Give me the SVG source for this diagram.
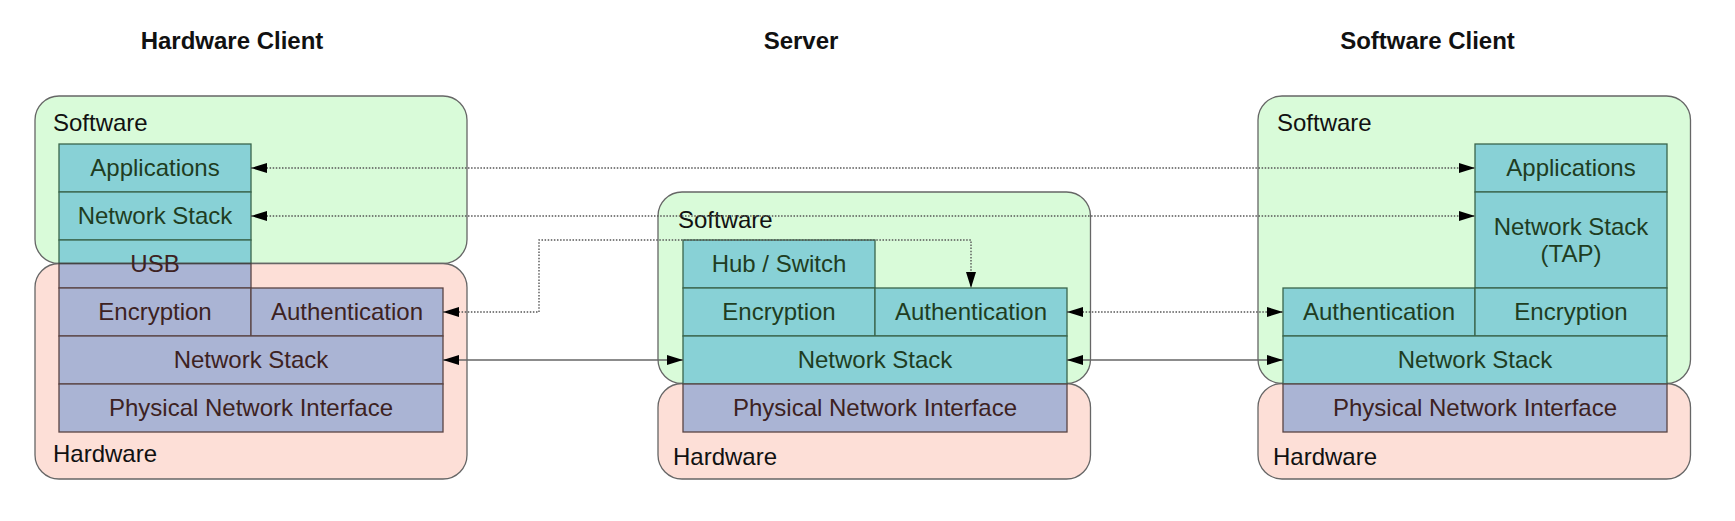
<svg xmlns="http://www.w3.org/2000/svg" width="1735" height="521" viewBox="0 0 1735 521">
<style>
text{font-family:"Liberation Sans",Arial,sans-serif;font-size:24px}
.title{font-weight:bold;fill:#111;text-anchor:middle}
.lbl{fill:#111}
.sw{fill:#d9fbd9;stroke:#666;stroke-width:1.3}
.hw{fill:#fddfd7;stroke:#666;stroke-width:1.3}
.t{fill:#88d1d6;stroke:#3a654c;stroke-width:1.3}
.l{fill:#aab4d4;stroke:#5a4444;stroke-width:1.3}
.tt{fill:#1f3d22;text-anchor:middle}
.lt{fill:#3d2222;text-anchor:middle}
.dot{fill:none;stroke:#555;stroke-width:1.4;stroke-dasharray:1.5 1.6;marker-start:url(#ah);marker-end:url(#ah)}
.sol{fill:none;stroke:#666;stroke-width:1.4;marker-start:url(#ah);marker-end:url(#ah)}
</style>
<defs>
<marker id="ah" markerUnits="userSpaceOnUse" markerWidth="16" markerHeight="10" refX="16" refY="5" orient="auto-start-reverse" viewBox="0 0 16 10">
<path d="M0,0 L16,5 L0,10 z" fill="#000" stroke="none"/>
</marker>
</defs>
<rect width="1735" height="521" fill="#fff"/>
<g id="titles">
<text class="title" x="232" y="49">Hardware Client</text>
<text class="title" x="801" y="49">Server</text>
<text class="title" x="1427.5" y="49">Software Client</text>
</g>
<g id="hw-client">
<rect class="sw" x="35" y="96" width="432" height="167.5" rx="24"/>
<rect class="hw" x="35" y="263.5" width="432" height="215.5" rx="24"/>
<text class="lbl" x="53" y="131">Software</text>
<text class="lbl" x="53" y="462">Hardware</text>
<g id="hc-apps"><rect class="t" x="59" y="144" width="192" height="48"/><text class="tt" x="155" y="176">Applications</text></g>
<g id="hc-netstack-sw"><rect class="t" x="59" y="192" width="192" height="48"/><text class="tt" x="155" y="224">Network Stack</text></g>
<g id="hc-usb"><rect class="t" x="59" y="240" width="192" height="23.5"/><rect class="l" x="59" y="263.5" width="192" height="24.5"/><line x1="59" y1="263.5" x2="251" y2="263.5" stroke="#444" stroke-width="1.3"/><text class="lt" x="155" y="272">USB</text></g>
<g id="hc-enc"><rect class="l" x="59" y="288" width="192" height="48"/><text class="lt" x="155" y="320">Encryption</text></g>
<g id="hc-auth"><rect class="l" x="251" y="288" width="192" height="48"/><text class="lt" x="347" y="320">Authentication</text></g>
<g id="hc-netstack"><rect class="l" x="59" y="336" width="384" height="48"/><text class="lt" x="251" y="368">Network Stack</text></g>
<g id="hc-phy"><rect class="l" x="59" y="384" width="384" height="48"/><text class="lt" x="251" y="416">Physical Network Interface</text></g>
</g>
<g id="server">
<rect class="sw" x="658" y="192" width="432.5" height="191.5" rx="24"/>
<rect class="hw" x="658" y="383.5" width="432.5" height="95.5" rx="24"/>
<text class="lbl" x="678" y="228">Software</text>
<text class="lbl" x="673" y="465">Hardware</text>
<g id="sv-hub"><rect class="t" x="683" y="240" width="192" height="48"/><text class="tt" x="779" y="272">Hub / Switch</text></g>
<g id="sv-enc"><rect class="t" x="683" y="288" width="192" height="48"/><text class="tt" x="779" y="320">Encryption</text></g>
<g id="sv-auth"><rect class="t" x="875" y="288" width="192" height="48"/><text class="tt" x="971" y="320">Authentication</text></g>
<g id="sv-netstack"><rect class="t" x="683" y="336" width="384" height="48"/><text class="tt" x="875" y="368">Network Stack</text></g>
<g id="sv-phy"><rect class="l" x="683" y="384" width="384" height="48"/><text class="lt" x="875" y="416">Physical Network Interface</text></g>
</g>
<g id="sw-client">
<rect class="sw" x="1258" y="96" width="432.5" height="287.5" rx="24"/>
<rect class="hw" x="1258" y="383.5" width="432.5" height="95.5" rx="24"/>
<text class="lbl" x="1277" y="131">Software</text>
<text class="lbl" x="1273" y="465">Hardware</text>
<g id="sc-apps"><rect class="t" x="1475" y="144" width="192" height="48"/><text class="tt" x="1571" y="176">Applications</text></g>
<g id="sc-tap"><rect class="t" x="1475" y="192" width="192" height="96"/><text class="tt" x="1571" y="234.5">Network Stack</text><text class="tt" x="1571" y="261.5">(TAP)</text></g>
<g id="sc-auth"><rect class="t" x="1283" y="288" width="192" height="48"/><text class="tt" x="1379" y="320">Authentication</text></g>
<g id="sc-enc"><rect class="t" x="1475" y="288" width="192" height="48"/><text class="tt" x="1571" y="320">Encryption</text></g>
<g id="sc-netstack"><rect class="t" x="1283" y="336" width="384" height="48"/><text class="tt" x="1475" y="368">Network Stack</text></g>
<g id="sc-phy"><rect class="l" x="1283" y="384" width="384" height="48"/><text class="lt" x="1475" y="416">Physical Network Interface</text></g>
</g>
<g id="connectors">
<path class="dot" d="M251,168 H1475"/>
<path class="dot" d="M251,216 H1475"/>
<path class="dot" d="M443,312 H539 V240 H971 V288"/>
<path class="sol" d="M443,360 H683"/>
<path class="dot" d="M1067,312 H1283"/>
<path class="sol" d="M1067,360 H1283"/>
</g>
</svg>
